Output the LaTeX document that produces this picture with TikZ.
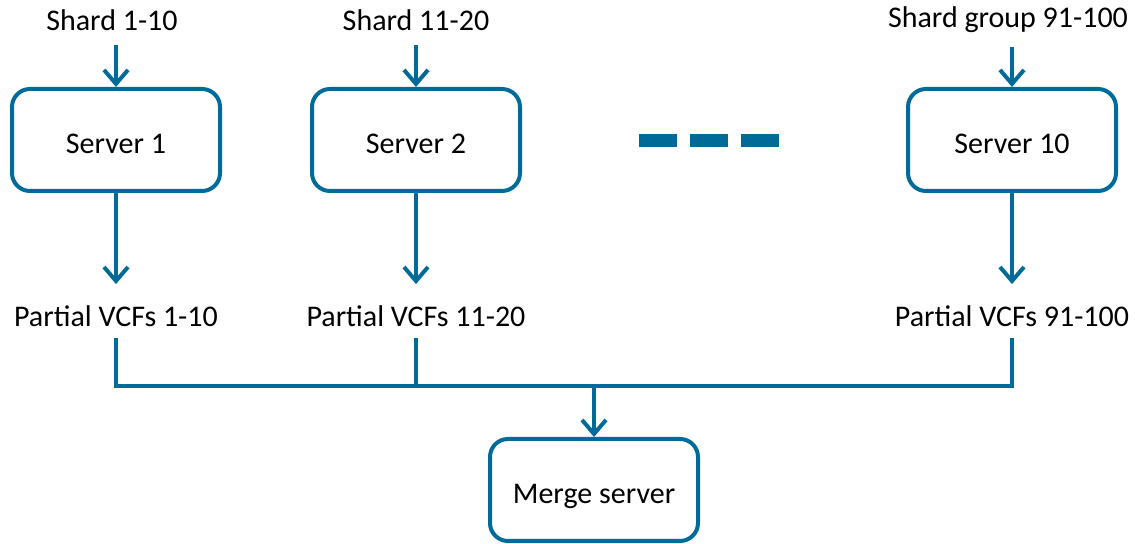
\documentclass[tikz,border=0pt]{standalone}
\usepackage{fontspec}
\setmainfont{Carlito}
\usetikzlibrary{arrows.meta}
\definecolor{srvblue}{RGB}{0,107,152}
\begin{document}
\begin{tikzpicture}[x=0.5pt, y=-0.5pt,
  server/.style={draw=srvblue, line width=2pt, rounded corners=9pt, minimum width=104pt, minimum height=51pt, text height=14pt, text depth=0pt, font=\fontsize{15}{18}\selectfont},
  lbl/.style={font=\fontsize{15}{18}\selectfont, inner xsep=0pt, inner ysep=7pt},
  part/.style={font=\fontsize{15}{18}\selectfont, inner xsep=0pt, inner ysep=5.5pt},
  arr/.style={draw=srvblue, line width=2pt, -{Straight Barb[length=7pt, width=12pt]}},
  wire/.style={draw=srvblue, line width=2pt}]
\def \xa       {116}
\def \xb       {416}
\def \xc       {1012}
\def \xm       {594}

\def \yshard   {20}
\def \yserver  {140}
\def \ypart    {316}
\def \ybus     {386}
\def \ymerge   {490}

\useasboundingbox (0,0) rectangle (1135,544);
% shards
\node [lbl] (shard1) at (112, \yshard)  {Shard 1-10};
\node [lbl] (shard2) at (416, \yshard)  {Shard 11-20};
\node [lbl] (shard3) at (1008, \yshard) {Shard group 91-100};
% servers
\node [server] (srv1) at (\xa, \yserver) {Server 1};
\node [server] (srv2) at (\xb, \yserver) {Server 2};
\node [server] (srv3) at (\xc, \yserver) {Server 10};
% dashes
\draw [srvblue, line width=6.5pt, dash pattern=on 19pt off 6.5pt] (639, 141) -- (780, 141);
% partial results
\node [part] (part1) at (\xa, \ypart) {Partial VCFs 1-10};
\node [part] (part2) at (\xb, \ypart) {Partial VCFs 11-20};
\node [part] (part3) at (\xc, \ypart) {Partial VCFs 91-100};
% merge
\node [server] (merge) at (\xm, \ymerge) {Merge server};
\coordinate (bus) at (\xm, \ybus);

% arrows in
\draw [arr] (srv1 |- shard1.south) -- (srv1.north);
\draw [arr] (srv2 |- shard2.south) -- (srv2.north);
\draw [arr] (srv3 |- shard3.south) -- (srv3.north);
% arrows out
\draw [arr, shorten >=5pt] (srv1) -- (part1);
\draw [arr, shorten >=5pt] (srv2) -- (part2);
\draw [arr, shorten >=5pt] (srv3) -- (part3);
% bus
\draw [wire] (part1.south) |- (bus) -| (part3.south);
\draw [wire] (part2.south) -- (part2.south |- bus);
\draw [arr] (bus) -- (merge);

\end{tikzpicture}
\end{document}
